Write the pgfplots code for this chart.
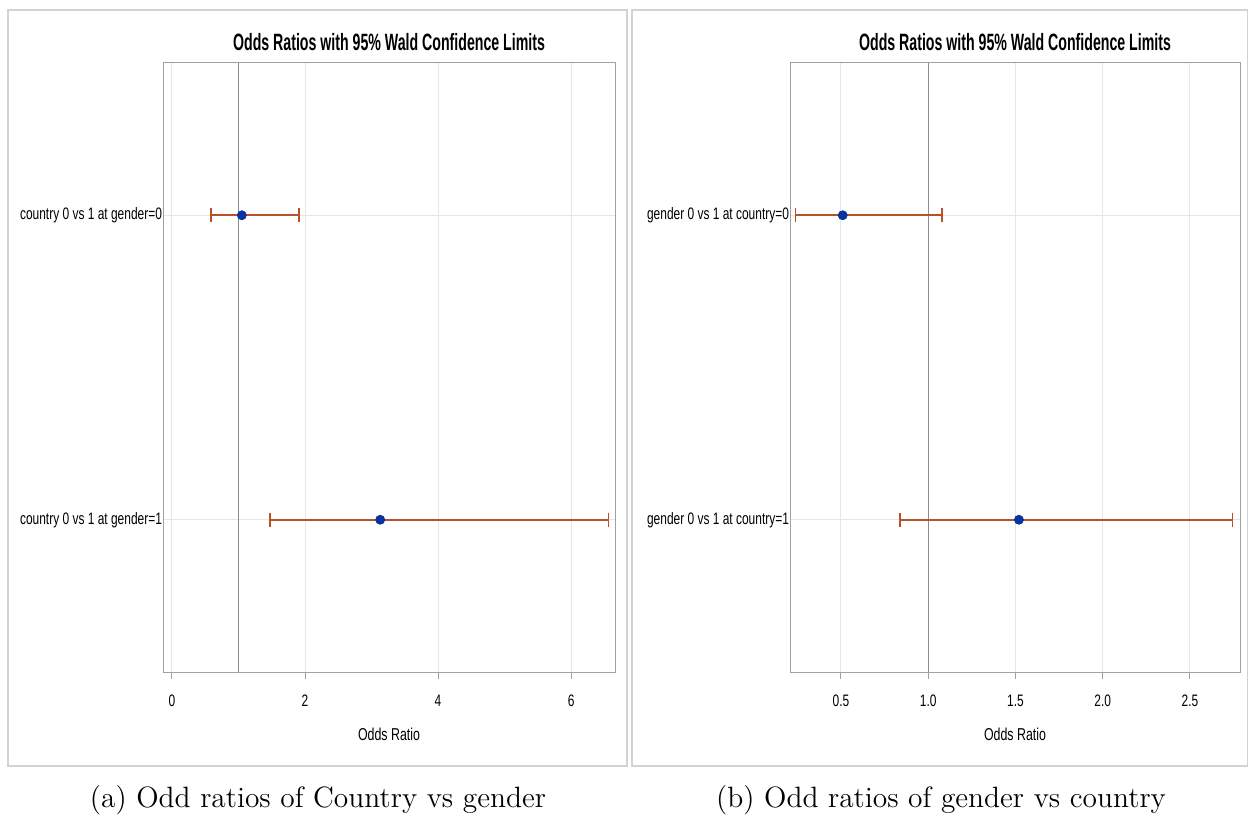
\documentclass[border=0pt]{standalone}
\usepackage{fontspec}
\usepackage{pgfplots}
\pgfplotsset{compat=1.18}
\newfontfamily\sas{Liberation Sans}[FakeStretch=0.72]
\newfontfamily\sastitle{Liberation Sans}[FakeStretch=0.6]
\definecolor{errcol}{RGB}{184,80,40}
\definecolor{ptcol}{RGB}{10,50,160}
\definecolor{gridcol}{RGB}{230,230,230}
\definecolor{boxcol}{RGB}{160,160,160}
\definecolor{refcol}{RGB}{140,140,140}
\definecolor{framecol}{RGB}{210,210,210}
\pgfplotsset{
  sasax/.style={
    scale only axis, width=226pt, height=304.5pt,
    anchor=south west,
    y dir=reverse, ymin=0.5, ymax=2.5, ytick={1,2},
    axis line style={boxcol, line width=0.5pt},
    tick align=outside, xtick pos=bottom,
    major tick length=3.5pt,
    xtick style={boxcol, line width=0.5pt},
    ytick style={draw=none},
    xmajorgrids, ymajorgrids,
    major grid style={gridcol, line width=0.5pt},
    /pgf/number format/assume math mode=true,
    xticklabel style={font=\sas\fontsize{8.3}{10}\selectfont, yshift=-4.5pt},
    yticklabel style={font=\sas\fontsize{8.3}{10}\selectfont, xshift=6.5pt},
    xlabel={Odds Ratio},
    xlabel style={font=\sas\fontsize{8.6}{10}\selectfont, yshift=-3.5pt},
    title={Odds Ratios with 95\% Wald Confidence Limits},
    title style={font=\sastitle\bfseries\fontsize{11.8}{13}\selectfont, yshift=-3.5pt},
    errstyle/.style={draw=none, mark=none, forget plot,
      error bars/.cd, x dir=both, x explicit,
      error bar style={draw=errcol, line width=0.85pt},
      error mark options={draw=errcol, mark size=3.5pt, line width=0.8pt, rotate=90}},
  }
}
\begin{document}
\begin{tikzpicture}
\path[use as bounding box] (0,0) rectangle (624pt,409pt);
\draw[framecol, line width=0.6pt] (4pt,26pt) rectangle (313.5pt,404pt);
\draw[framecol, line width=0.6pt] (316pt,26pt) rectangle (623.7pt,404pt);
% Left
\begin{axis}[sasax, at={(81.5pt,73pt)},
  xmin=-0.135, xmax=6.66, xtick={0,2,4,6},
  yticklabels={country 0 vs 1 at gender=0, country 0 vs 1 at gender=1}]
\addplot[refcol, line width=0.5pt, forget plot] coordinates {(1,0.5) (1,2.5)};
\addplot[errstyle]
  coordinates {(1.05,1) += (0.86,0) -= (0.46,0)
               (3.13,2) += (3.43,0) -= (1.66,0)};
\addplot[only marks, mark=*, mark size=2.25pt, ptcol] coordinates {(1.05,1) (3.13,2)};
\end{axis}
% Right
\begin{axis}[sasax, at={(395pt,73pt)}, width=225pt,
  xmin=0.208, xmax=2.787, xtick={0.5,1.0,1.5,2.0,2.5},
  xticklabels={0.5,1.0,1.5,2.0,2.5},
  yticklabels={gender 0 vs 1 at country=0, gender 0 vs 1 at country=1}]
\addplot[refcol, line width=0.5pt, forget plot] coordinates {(1,0.5) (1,2.5)};
\addplot[errstyle]
  coordinates {(0.51,1) += (0.57,0) -= (0.27,0)
               (1.52,2) += (1.225,0) -= (0.68,0)};
\addplot[only marks, mark=*, mark size=2.25pt, ptcol] coordinates {(0.51,1) (1.52,2)};
\end{axis}
\node[font=\fontsize{14.7}{17}\selectfont, anchor=base] at (159pt,5pt) {(a) Odd ratios of Country vs gender};
\node[font=\fontsize{14.7}{17}\selectfont, anchor=base] at (470.5pt,5pt) {(b) Odd ratios of gender vs country};
\end{tikzpicture}
\end{document}
